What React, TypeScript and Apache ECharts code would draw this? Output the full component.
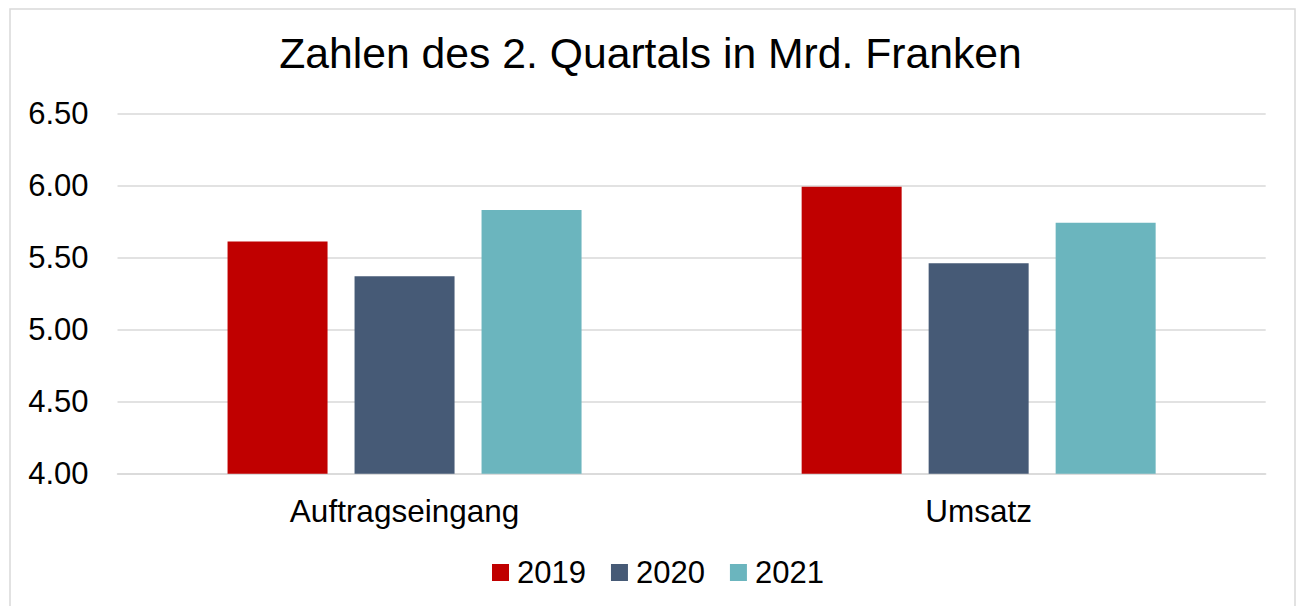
import React, { useEffect, useRef } from "react";
import * as echarts from "echarts";

const categories = ["Auftragseingang", "Umsatz"];
const seriesNames = ["2019", "2020", "2021"];
const values2019 = [5.61, 5.99];
const values2020 = [5.37, 5.46];
const values2021 = [5.83, 5.74];
const colors = ["#C00000", "#465A76", "#6BB5BE"];
const titleText = "Zahlen des 2. Quartals in Mrd. Franken";

export default function App() {
  const ref = useRef<HTMLDivElement>(null);
  useEffect(() => {
    if (!ref.current) return;
    const chart = echarts.init(ref.current, null, { renderer: "svg" });
    const font = "'Liberation Sans', Arial, sans-serif";
    const data = [values2019, values2020, values2021];
    chart.setOption({
      animation: false,
      backgroundColor: "#ffffff",
      textStyle: { fontFamily: font },
      graphic: [
        {
          type: "rect",
          shape: { x: 10, y: 9, width: 1285, height: 620 },
          style: { fill: "none", stroke: "#d9d9d9", lineWidth: 1.5 },
          silent: true,
        },
      ],
      title: {
        text: titleText,
        left: "center",
        top: 26,
        textStyle: { fontFamily: font, fontSize: 42.7, fontWeight: "normal", color: "#000" },
      },
      legend: {
        data: seriesNames,
        left: 487,
        top: 552,
        icon: "rect",
        itemWidth: 17,
        itemHeight: 17,
        itemGap: 25,
        textStyle: { fontFamily: font, fontSize: 31, color: "#000", padding: [0, 0, 0, 3] },
      },
      grid: { left: 117.5, right: 35.3, top: 113.3, bottom: 132.3, containLabel: false },
      xAxis: {
        type: "category",
        data: categories,
        axisLine: { show: true, lineStyle: { color: "#d9d9d9", width: 1.5 } },
        axisTick: { show: false },
        axisLabel: { fontFamily: font, fontSize: 31.5, color: "#000", margin: 21 },
      },
      yAxis: {
        type: "value",
        min: 4,
        max: 6.5,
        interval: 0.5,
        axisLine: { show: false },
        axisTick: { show: false },
        splitLine: { lineStyle: { color: "#d9d9d9", width: 1.5 } },
        axisLabel: {
          fontFamily: font,
          fontSize: 31,
          color: "#000",
          margin: 29,
          formatter: (v: number) => v.toFixed(2),
        },
      },
      series: seriesNames.map((name, i) => ({
        name,
        type: "bar",
        data: data[i],
        barWidth: 100,
        barGap: "27%",
        itemStyle: { color: colors[i] },
      })),
    });
    return () => chart.dispose();
  }, []);
  return (
    <div
      ref={ref}
      style={{ position: "fixed", left: 0, top: 0, width: 1301, height: 606 }}
    />
  );
}
